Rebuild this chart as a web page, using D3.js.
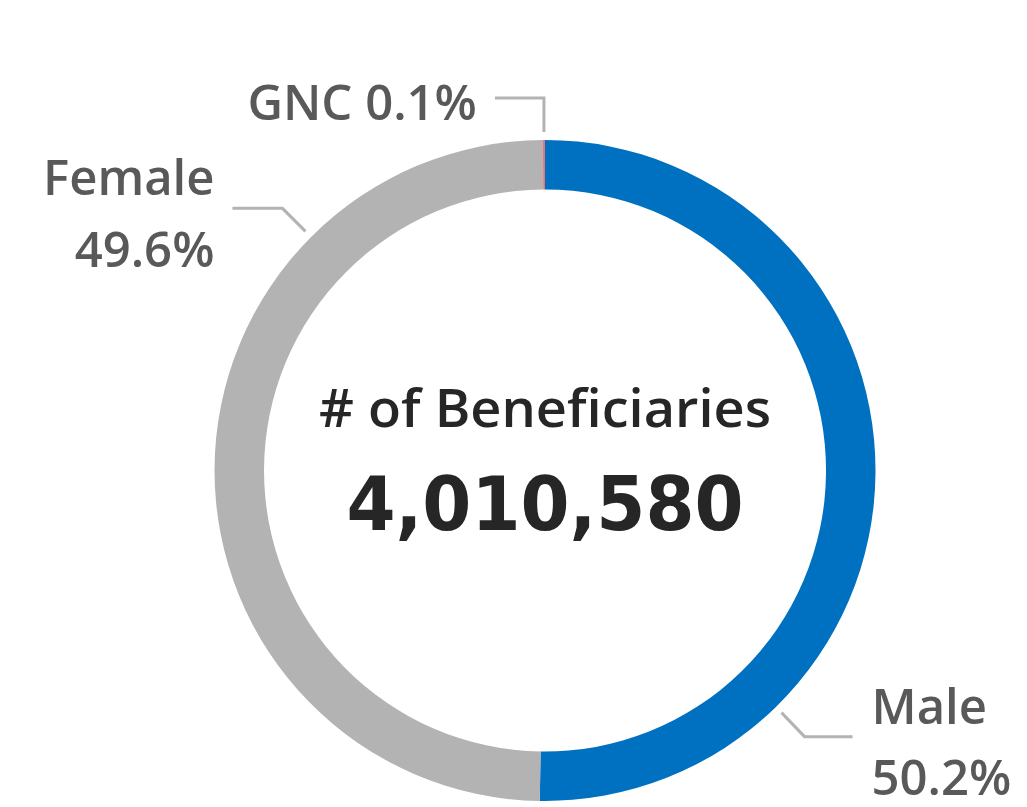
<!DOCTYPE html>
<html><head><meta charset="utf-8">
<script src="https://cdn.jsdelivr.net/npm/d3@7"></script>
<style>html,body{margin:0;padding:0;background:#fff;}</style>
</head><body>
<svg id="chart" width="1027" height="807"></svg>
<script>
const categories = ["Male", "Female", "GNC"];
const percentages = [50.2, 49.6, 0.1];
const percentLabels = ["50.2%", "49.6%", "0.1%"];
const colors = ["#0070C0", "#B3B3B3", "#E8737B"];
const totalLabel = "# of Beneficiaries";
const totalValue = 4010580;

const svg = d3.select("#chart");
const cx = 545, cy = 470.5, rOuter = 330.5, rInner = 281;
const g = svg.append("g").attr("transform", `translate(${cx},${cy})`);

const pie = d3.pie().sort(null).value(d => d);
const arcs = pie(percentages);
const arc = d3.arc().innerRadius(rInner).outerRadius(rOuter);

g.selectAll("path.slice").data(arcs).enter().append("path")
  .attr("class", "slice")
  .attr("d", arc)
  .attr("fill", (d, i) => colors[i]);

// center text
g.append("text").attr("x", 0).attr("y", -44)
  .attr("text-anchor", "middle")
  .attr("font-family", "Open Sans, Noto Sans, sans-serif")
  .attr("font-weight", 600)
  .attr("font-size", 53).attr("fill", "#262626")
  .attr("textLength", 452).attr("lengthAdjust", "spacingAndGlyphs")
  .text(totalLabel);
g.append("text").attr("x", 0).attr("y", 59)
  .attr("text-anchor", "middle")
  .attr("font-family", "DejaVu Sans, sans-serif")
  .attr("font-weight", "bold")
  .attr("font-size", 75).attr("fill", "#262626")
  .attr("textLength", 397).attr("lengthAdjust", "spacingAndGlyphs")
  .text(d3.format(",")(totalValue));

// labels & leader lines
const lineColor = "#B3B3B3", textColor = "#595959";
const fontF = "Open Sans, Noto Sans, sans-serif";
const fs = 49;
const rStart = rOuter + 8;
function polar(angle, r) { return [r * Math.sin(angle), -r * Math.cos(angle)]; }

// Male
{
  const a = arcs[0];
  const ang = a.startAngle + (a.endAngle - a.startAngle) * 0.75;
  const p0 = polar(ang, rStart);
  const p1 = [p0[0] + 23, p0[1] + 24];
  const p2 = [p1[0] + 48, p1[1]];
  g.append("path").attr("d", d3.line()([p0, p1, p2]))
    .attr("fill", "none").attr("stroke", lineColor).attr("stroke-width", 3);
  const t = g.append("text").attr("font-family", fontF).attr("font-weight", 600).attr("font-size", fs).attr("fill", textColor).attr("text-anchor", "start");
  t.append("tspan").attr("x", p2[0] + 19).attr("y", p2[1] - 13).text(categories[0]);
  t.append("tspan").attr("x", p2[0] + 19).attr("y", p2[1] + 58).text(percentLabels[0]);
}
// Female
{
  const a = arcs[1];
  const ang = a.startAngle + (a.endAngle - a.startAngle) * 0.75;
  const p0 = polar(ang, rStart);
  const p1 = [p0[0] - 23, p0[1] - 23];
  const p2 = [p1[0] - 50, p1[1]];
  g.append("path").attr("d", d3.line()([p0, p1, p2]))
    .attr("fill", "none").attr("stroke", lineColor).attr("stroke-width", 3);
  const t = g.append("text").attr("font-family", fontF).attr("font-weight", 600).attr("font-size", fs).attr("fill", textColor).attr("text-anchor", "end");
  t.append("tspan").attr("x", p2[0] - 18).attr("y", p2[1] - 13).text(categories[1]);
  t.append("tspan").attr("x", p2[0] - 18).attr("y", p2[1] + 59).text(percentLabels[1]);
}
// GNC
{
  const a = arcs[2];
  const ang = (a.startAngle + a.endAngle) / 2;
  const p0 = polar(ang, rStart);
  const p1 = [p0[0], p0[1] - 34];
  const p2 = [p1[0] - 49, p1[1]];
  g.append("path").attr("d", d3.line()([p0, p1, p2]))
    .attr("fill", "none").attr("stroke", lineColor).attr("stroke-width", 3);
  g.append("text").attr("font-family", fontF).attr("font-weight", 600).attr("font-size", fs).attr("fill", textColor)
    .attr("text-anchor", "end").attr("x", p2[0] - 18).attr("y", p2[1] + 22)
    .text(categories[2] + " " + percentLabels[2]);
}
</script>
</body></html>
